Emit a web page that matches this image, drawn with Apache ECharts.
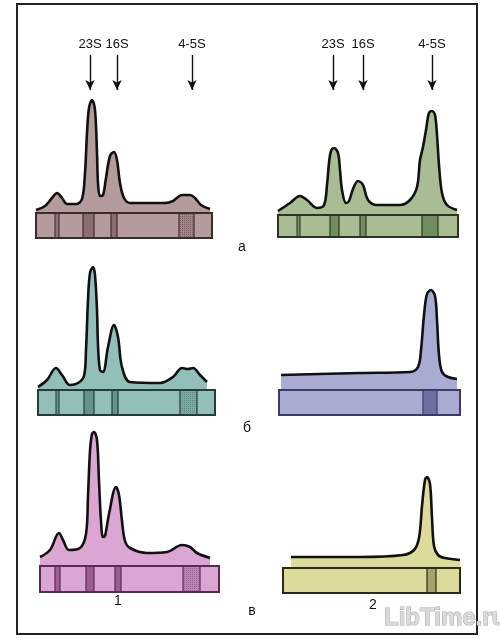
<!DOCTYPE html>
<html><head><meta charset="utf-8">
<script src="https://cdn.jsdelivr.net/npm/echarts@6/dist/echarts.min.js"></script>
<style>html,body{margin:0;padding:0;background:#fff}#c{width:500px;height:639px}</style>
</head><body><div id="c"></div>
<script>
// ---- data: gel profiles (x = position along gel strip, y = absorbance, arbitrary units) ----
const arrowLabels = ['23S', '16S', '4-5S'];
const arrowsA1 = [54, 81, 156];
const arrowsA2 = [55, 85, 154];

const profileA1 = [[0,3],[9,7],[16,15],[21,20],[26,15],[31,9],[40,9],[46,14],[49,40],[51,80],[53,105],[56,113],[59,103],[61,60],[62,30],[64,17],[67,18],[70,35],[74,57],[78,61],[81,53],[84,30],[88,15],[94,10],[129,10],[137,12],[142,16],[146,18],[154,18],[159,15],[165,8],[174,4]];
const profileA2 = [[0,4],[12,12],[22,19],[29,15],[39,7],[46,10],[49,30],[51,52],[53,64],[56,67],[60,62],[62,45],[64,25],[68,12],[71,14],[75,26],[80,34],[85,30],[90,15],[99,10],[122,10],[132,15],[139,28],[142,55],[145,68],[148,85],[151,102],[154,104],[157,100],[159,80],[161,50],[164,22],[169,10],[179,5]];
const profileB1 = [[0,3],[9,10],[18,22],[24,15],[32,5],[40,7],[46,14],[48,40],[50,90],[52,117],[55,123],[57,115],[59,80],[60,45],[62,20],[65,18],[70,43],[76,65],[80,53],[84,23],[92,8],[122,7],[135,13],[144,22],[150,21],[155,22],[162,15],[169,8]];
const profileB2 = [[2,15],[81,17],[131,18],[139,23],[142,40],[145,75],[148,96],[152,100],[156,94],[158,70],[160,35],[163,18],[169,13],[178,11]];
const profileV1 = [[0,9],[10,16],[19,33],[23,26],[29,16],[40,18],[46,32],[48,70],[50,115],[52,132],[54,134],[57,126],[59,85],[61,45],[63,29],[65,30],[69,52],[76,79],[79,71],[82,45],[85,25],[90,18],[107,13],[127,14],[142,21],[150,19],[157,13],[170,8]];
const profileV2 = [[8,11],[77,11],[120,13],[131,18],[136,30],[139,62],[142,88],[144,91],[147,84],[149,50],[151,22],[155,13],[162,10],[177,8]];

// bands in the gel strip: [start, end, kind]  kind: 1 thin line, 2 dense band, 3 cross-hatched band
const bandsA1 = [[19,23,1],[47,58,2],[75,81,2],[143,158,3]];
const bandsA2 = [[19,22,1],[52,61,2],[82,88,2],[144,160,2]];
const bandsB1 = [[18,21,1],[46,56,2],[74,80,2],[142,159,3]];
const bandsB2 = [[144,158,2]];
const bandsV1 = [[15,20,2],[46,54,2],[75,81,2],[143,160,3]];
const bandsV2 = [[144,153,2]];

// ---- layout / styles ----
const panels = [
  {left:36, top:213, w:176, h:25, yMax:180, profile:profileA1, bands:bandsA1, arrows:arrowsA1, fill:'#b39c9b', band:'#8c6e70', hatch:'#a38788', dot:'#7a5c5e', edge:'#3e2c2c'},
  {left:278, top:215, w:180, h:22, yMax:182, profile:profileA2, bands:bandsA2, arrows:arrowsA2, fill:'#a9bd95', band:'#728d5f', hatch:'#728d5f', dot:'#5a7249', edge:'#2b3324'},
  {left:38, top:390, w:177, h:25, yMax:130, profile:profileB1, bands:bandsB1, fill:'#93bfbb', band:'#63938e', hatch:'#7eaaa6', dot:'#5a8a86', edge:'#253c3a'},
  {left:279, top:390, w:181, h:25, yMax:110, profile:profileB2, bands:bandsB2, fill:'#a9abd3', band:'#6f70a0', hatch:'#6f70a0', dot:'#55568a', edge:'#3b3c66'},
  {left:40, top:566, w:179, h:26, yMax:140, profile:profileV1, bands:bandsV1, fill:'#dba7d2', band:'#9d5d93', hatch:'#bd88b4', dot:'#95598c', edge:'#5a2a52'},
  {left:283, top:568, w:177, h:25, yMax:100, profile:profileV2, bands:bandsV2, fill:'#dcdb9c', band:'#a5a36c', hatch:'#a5a36c', dot:'#8a8850', edge:'#2a2a18'}
];

function hatchPattern(base, dark) {
  const c = document.createElement('canvas');
  c.width = 4; c.height = 4;
  const g = c.getContext('2d');
  g.fillStyle = base; g.fillRect(0,0,4,4);
  g.fillStyle = dark;
  g.fillRect(0,0,1,1); g.fillRect(2,2,1,1); g.fillRect(2,0,1,1); g.fillRect(0,2,1,1);
  return c;
}

const grid = [], xAxis = [], yAxis = [], series = [];
panels.forEach((p, i) => {
  grid.push({left:p.left, width:p.w, top:p.top - p.yMax, height:p.yMax + p.h});
  xAxis.push({gridIndex:i, type:'value', min:0, max:p.w, show:false});
  yAxis.push({gridIndex:i, type:'value', min:-p.h, max:p.yMax, show:false});
  const s = {
    type:'line', xAxisIndex:i, yAxisIndex:i, data:p.profile, smooth:0.35,
    showSymbol:false, silent:true, clip:false, z:2,
    lineStyle:{color:'#111', width:2.6},
    areaStyle:{color:p.fill, opacity:1}
  };
  if (p.arrows) {
    s.markLine = {
      silent:true, symbol:['none','arrow'], symbolSize:[7,10], animation:false,
      lineStyle:{color:'#111', width:1.4, type:'solid'},
      label:{show:true, position:'start', distance:4, color:'#111', fontSize:13, fontFamily:'Liberation Sans, Arial, sans-serif', formatter:'{b}'},
      data: p.arrows.map((x, k) => [{name:arrowLabels[k], coord:[x, p.top - 55]}, {coord:[x, p.top - 90]}])
    };
  }
  series.push(s);
  const pat = {image: hatchPattern(p.hatch, p.dot), repeat:'repeat'};
  const items = [[0, p.w]].concat(p.bands.map(b => [b[0], b[1]])).concat([[0, p.w]]);
  series.push({
    type:'custom', xAxisIndex:i, yAxisIndex:i, silent:true, z:3,
    data: items,
    renderItem: function(params, api) {
      const idx = params.dataIndex;
      const a = api.coord([api.value(0), 0]);
      const b = api.coord([api.value(1), 0]);
      const yTop = a[1];
      const yBot = api.coord([0, -p.h])[1];
      const shape = {x:a[0], y:yTop, width:b[0]-a[0], height:yBot-yTop};
      if (idx === 0) {
        return {type:'rect', shape, style:{fill:p.fill, stroke:null}};
      }
      if (idx === items.length - 1) {
        return {type:'rect', shape, style:{fill:null, stroke:p.edge, lineWidth:2}};
      }
      const kind = p.bands[idx - 1][2];
      let fill = p.band;
      if (kind === 3) fill = pat;
      return {type:'rect', shape, style:{fill:fill, stroke:p.edge, lineWidth:1.2, opacity: kind===1 ? 0.9 : 1}};
    }
  });
});

const font = 'Liberation Sans, Arial, sans-serif';
const chart = echarts.init(document.getElementById('c'), null, {renderer:'canvas'});
chart.setOption({
  animation:false,
  backgroundColor:'#fff',
  grid, xAxis, yAxis, series,
  graphic: [
    {type:'rect', shape:{x:17, y:4, width:460, height:630}, style:{fill:null, stroke:'#222', lineWidth:2}, z:10, silent:true},
    {type:'text', x:242, y:247, style:{text:'а', font:'14px '+font, fill:'#111', textAlign:'center', textVerticalAlign:'middle'}},
    {type:'text', x:247, y:428, style:{text:'б', font:'14px '+font, fill:'#111', textAlign:'center', textVerticalAlign:'middle'}},
    {type:'text', x:252, y:611, style:{text:'в', font:'14px '+font, fill:'#111', textAlign:'center', textVerticalAlign:'middle'}},
    {type:'text', x:118, y:601, style:{text:'1', font:'14px '+font, fill:'#111', textAlign:'center', textVerticalAlign:'middle'}},
    {type:'text', x:373, y:605, style:{text:'2', font:'14px '+font, fill:'#111', textAlign:'center', textVerticalAlign:'middle'}},
    {type:'text', x:384, y:618, z:20, style:{text:'LibTime.ru', font:'bold 24px '+font, fill:'#dadada', stroke:'#a8a8a8', lineWidth:1, textAlign:'left', textVerticalAlign:'middle'}}
  ]
});
</script></body></html>
